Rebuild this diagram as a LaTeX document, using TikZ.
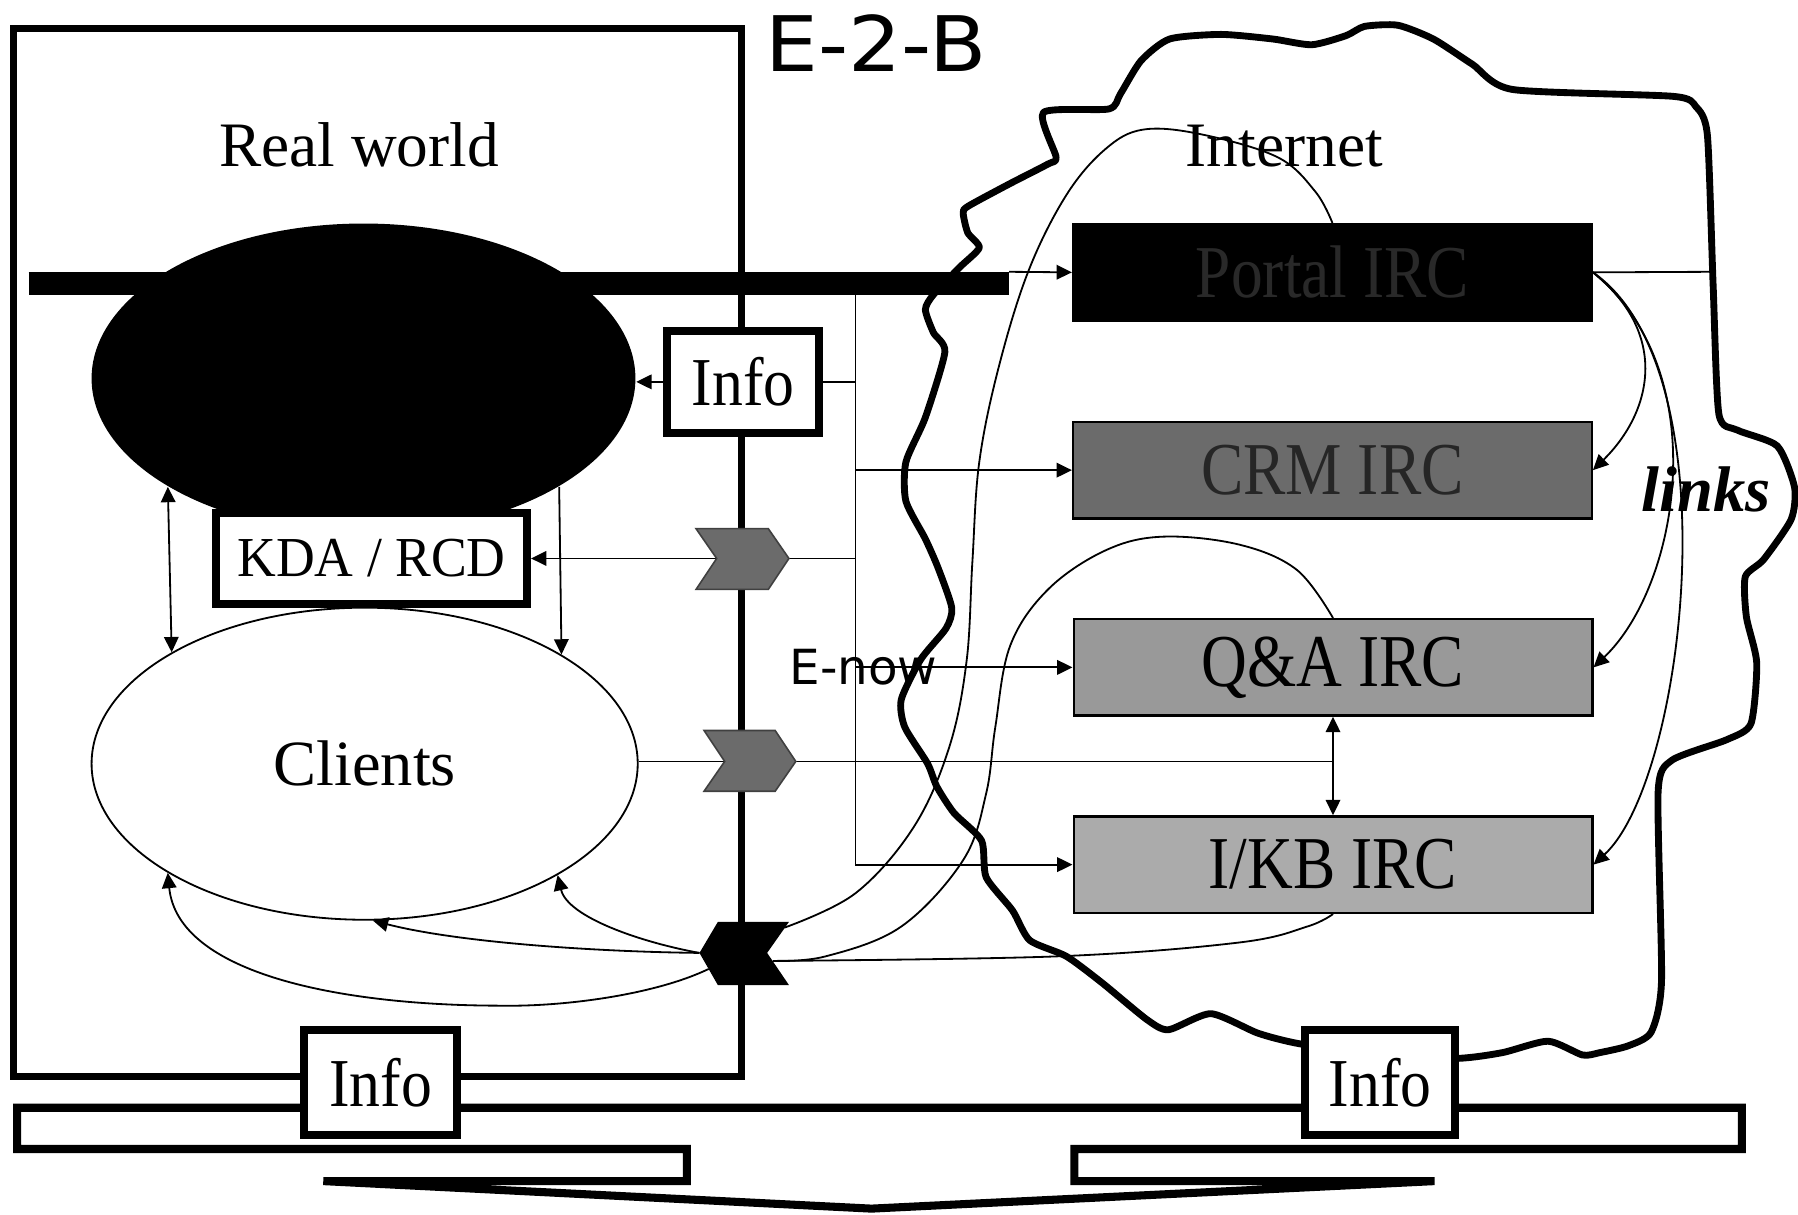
\documentclass[tikz,border=0pt]{standalone}
\usepackage{fontspec}
\setmainfont{Liberation Serif}
\newfontfamily\dejavu{DejaVu Sans}
\usepackage{graphicx}
\usetikzlibrary{arrows.meta,shapes.geometric}
\tikzset{
  thinline/.style={line width=0.45pt},
  arr/.style={thinline,-{Triangle[length=3.8pt,width=3.6pt]}},
  darr/.style={thinline,{Triangle[length=3.8pt,width=3.6pt]}-{Triangle[length=3.8pt,width=3.6pt]}},
  thickbox/.style={draw,line width=2pt,fill=white,inner sep=0pt},
  ircbox/.style={draw=black,line width=0.6pt,inner sep=0pt,minimum width=4.52cm,minimum height=0.84cm,font=\fontsize{18.5}{21}\selectfont},
  grayshev/.style={fill=black!58,draw=black!75,line width=0.4pt},
  serifbig/.style={font=\fontsize{15.7}{18}\selectfont},
  infofont/.style={font=\fontsize{17}{20}\selectfont},
}
\begin{document}
\begin{tikzpicture}[x=0.01cm,y=-0.01cm]
\useasboundingbox (0,0) rectangle (1568,1059);

% bottom big arrow band
\draw[line width=2pt,fill=white] (15,966) -- (1519,966) -- (1519,1002) -- (937,1002) -- (937,1030) -- (1251,1030) -- (760,1054) -- (282,1030) -- (599,1030) -- (599,1002) -- (15,1002) -- cycle;

% real world frame
\draw[line width=1.7pt] (12,25) rectangle (647,939);

% cloud
\draw[line width=1.7pt,line join=round] plot[smooth cycle,tension=0.4] coordinates {
(910,98) (967,95) (977,82) (995,53) (1020,34) (1065,30) (1110,34) (1144,39) (1174,31) (1190,23) (1219,22) (1250,34) (1284,56) (1319,78) (1459,84) (1479,93) (1489,118) (1494,249) (1499,361) (1515,375) (1550,389) (1565,425) (1562,453) (1538,488) (1522,503) (1523,538) (1532,578) (1527,631) (1506,645) (1458,663) (1446,691) (1449,855) (1440,900) (1420,912) (1395,918) (1380,920) (1350,908) (1310,918) (1270,923) (1200,920) (1132,910) (1097,901) (1056,884) (1019,898) (1000,889) (961,857) (930,834) (898,820) (883,794) (860,765) (856,733) (832,709) (817,686) (809,666) (789,634) (786,610) (803,575) (825,548) (830,530) (818,495) (807,470) (790,437) (790,403) (807,364) (824,307) (814,290) (807,270) (814,257) (837,233) (854,216) (844,203) (840,186) (844,180) (881,160) (914,143) (921,137)};

% titles
\node[anchor=base,font=\dejavu\fontsize{19}{22}\selectfont] (title) at (764,62) {\scalebox{1.09}[1]{E-2-B}};
\node[anchor=base,serifbig] (treal) at (313,145) {Real world};
\node[anchor=base,serifbig] (tnet) at (1120,145) {Internet};

% ellipses
\node[ellipse,fill=black,minimum width=4.74cm,minimum height=2.70cm,inner sep=0pt] (blk) at (317,330) {};
\node[ellipse,draw,thinline,fill=white,minimum width=4.76cm,minimum height=2.72cm,inner sep=0pt,font=\fontsize{16}{19}\selectfont] (cli) at (318,666) {Clients};

% black bar
\draw[line width=0.2cm] (25,247) -- (880,247);
\coordinate (barend) at (880,237);

% IRC boxes
\node[ircbox,fill=black,text=black!84] (portal) at (1162,237.5) {\scalebox{0.85}[1]{Portal IRC}};
\node[ircbox,fill=black!58,text=black!85] (crm) at (1162,410) {\scalebox{0.85}[1]{CRM IRC}};
\node[ircbox,fill=black!40] (qa) at (1162.5,582) {\scalebox{0.85}[1]{Q\&A IRC}};
\node[ircbox,fill=black!33] (ikb) at (1162.5,754) {\scalebox{0.85}[1]{I/KB IRC}};

% KDA box
\node[thickbox,minimum width=2.71cm,minimum height=0.79cm,font=\fontsize{14}{16}\selectfont] (kda) at (324,487) {\scalebox{0.95}[1]{KDA / RCD}};

% connector coordinates
\coordinate (vtop) at (746,257);
\coordinate (cloudR) at (1494,237);
\coordinate (c1tip) at (688,487);
\coordinate (c1notch) at (625,487);
\coordinate (c2tip) at (694,664);
\coordinate (c2notch) at (632,664);
\coordinate (cbtip) at (610,831);
\coordinate (cbsw) at (618,845);
\coordinate (cbne) at (684,809);
\coordinate (cbse) at (674,838);

% top info box
\node[thickbox,minimum width=1.33cm,minimum height=0.89cm,infofont] (info1) at (648,333) {\scalebox{0.9}[1]{Info}};

% thin connectors
\draw[thinline] (vtop) -- (vtop |- ikb.west);
\draw[thinline] (info1.east) -- (vtop |- info1.east);
\draw[arr] (vtop |- crm.west) -- (crm.west);
\draw[thinline] (c1tip) -- (vtop |- c1tip);
\draw[arr] (vtop |- qa.west) -- (qa.west);
\draw[arr] (vtop |- ikb.west) -- (ikb.west);
\draw[arr] (info1.west) -- (info1.west -| blk.east);
\draw[arr] (c1notch) -- (kda.east);
\draw[arr] (barend) -- (portal.west);
\draw[thinline] (portal.east) -- (cloudR);
\draw[thinline] (c2notch -| cli.east) -- (c2notch);
\draw[thinline] (c2tip) -- (c2tip -| qa.south);
\draw[darr] (qa.south) -- (ikb.north);
\draw[darr] (blk.209.8) -- (cli.150.2);
\draw[arr] (blk.331) -- (cli.29.5);

% links
\draw[arr] (portal.east) .. controls (1457,292) and (1440,360) .. (crm.east);
\draw[arr] (portal.east) .. controls (1496,324) and (1465,510) .. (qa.east);
\draw[arr] (portal.east) .. controls (1512,323) and (1470,680) .. (ikb.east);
\node[anchor=base,font=\bfseries\itshape\fontsize{16}{19}\selectfont] (tlinks) at (1488,446) {links};

% curves from black chevron to clients
\draw[arr] (cbsw) .. controls (570,868) and (490,878) .. (437,877) .. controls (300,877) and (155,850) .. (cli.209.8);
\draw[arr] (cbtip) .. controls (520,830) and (400,822) .. (cli.273);
\draw[arr] (cbtip) .. controls (560,822) and (495,800) .. (cli.330.5);

% curves into the internet
\draw[thinline] plot[smooth,tension=0.6] coordinates {(cbne) (746,779) (797,721) (828,651) (843,576) (848,490) (854,403) (871,320) (897,236) (930,170) (964,130) (997,113) (1047,117) (1114,137) (1147,167) (portal.north)};
\draw[thinline] plot[smooth,tension=0.6] coordinates {(cbse) (720,834) (786,808) (840,750) (860,692) (868,634) (881,563) (914,514) (964,480) (1014,468) (1081,475) (1131,497) (qa.north)};
\draw[thinline] plot[smooth,tension=0.6] coordinates {(cbse) (922,834) (1080,822) (1140,808) (ikb.south)};

% chevrons
\draw[grayshev] (607,461) -- (670,461) -- (c1tip) -- (670,514) -- (607,514) -- (c1notch) -- cycle;
\draw[grayshev] (614,637) -- (676,637) -- (c2tip) -- (676,690) -- (614,690) -- (c2notch) -- cycle;
\fill[black] (626,804) -- (688,804) -- (669,831) -- (688,859) -- (626,859) -- (cbtip) -- cycle;

% E-now label
\node[anchor=base,font=\dejavu\fontsize{12}{14}\selectfont] (tenow) at (753,597) {E-now};

% bottom info boxes
\node[thickbox,minimum width=1.33cm,minimum height=0.91cm,infofont] (info2) at (332,944) {\scalebox{0.9}[1]{Info}};
\node[thickbox,minimum width=1.30cm,minimum height=0.91cm,infofont] (info3) at (1203.5,944) {\scalebox{0.9}[1]{Info}};
\end{tikzpicture}
\end{document}
